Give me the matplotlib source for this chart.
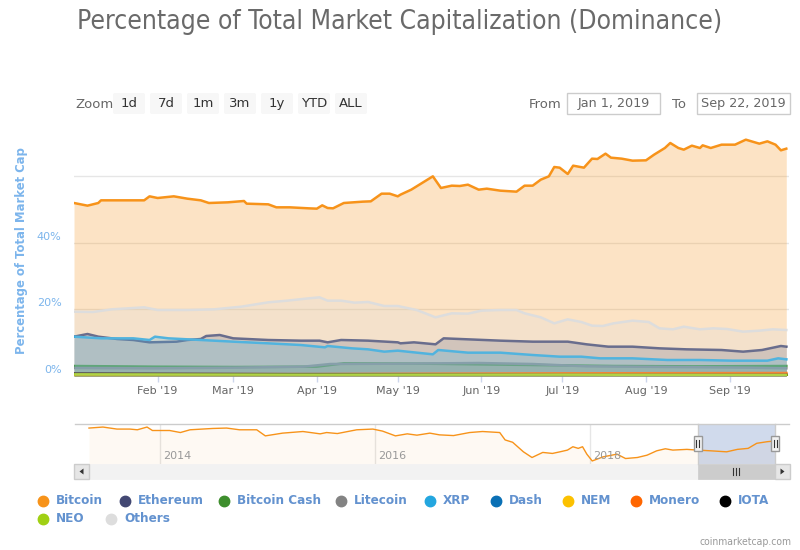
import numpy as np
import pandas as pd
import matplotlib
matplotlib.use('Agg')
import matplotlib.pyplot as plt
import matplotlib.dates as mdates
from matplotlib.patches import Rectangle, FancyBboxPatch, Polygon
from matplotlib.transforms import ScaledTranslation, blended_transform_factory
from matplotlib import font_manager

# ---------------- data ----------------
start_date = "2019-01-01"
end_date = "2019-09-22"

btc_days = [0, 5, 9, 10, 16, 22, 26, 28, 31, 37, 42, 47, 50, 57, 63, 64, 72, 75, 80, 87, 90, 92, 94, 96,
            100, 107, 110, 114, 117, 120, 121, 125, 130, 133, 136, 140, 143, 146, 150, 153, 158, 164, 167,
            170, 173, 176, 178, 180, 183, 185, 189, 192, 194, 197, 199, 203, 207, 212, 215, 219, 221, 224,
            226, 229, 232, 233, 236, 240, 245, 249, 254, 257, 260, 262, 264]
btc_vals = [51.9, 51.1, 51.9, 52.7, 52.7, 52.7, 52.7, 53.9, 53.4, 53.9, 53.2, 52.7, 51.9, 52.1, 52.5, 51.7,
            51.5, 50.6, 50.6, 50.3, 50.2, 51.2, 50.4, 50.3, 51.9, 52.3, 52.4, 54.7, 54.7, 53.9, 54.4, 55.9,
            58.4, 59.9, 56.4, 57.1, 57.0, 57.4, 55.9, 56.2, 55.6, 55.3, 57.1, 57.1, 58.9, 59.9, 62.7, 62.5,
            60.6, 63.1, 62.5, 65.2, 65.1, 66.7, 65.5, 65.2, 64.6, 64.7, 66.4, 68.4, 69.9, 68.4, 67.9, 69.1,
            68.4, 69.2, 68.4, 69.4, 69.4, 70.9, 69.7, 70.4, 69.4, 67.7, 68.2]

eth_days = [0, 5, 9, 16, 22, 28, 38, 42, 47, 49, 54, 59, 72, 84, 91, 94, 99, 109, 120, 121, 126, 134, 137,
            146, 158, 170, 183, 190, 198, 207, 217, 227, 240, 248, 255, 262, 264]
eth_vals = [11.8, 12.6, 11.8, 11.1, 10.8, 10.1, 10.3, 10.8, 11.1, 12.0, 12.3, 11.3, 10.8, 10.6, 10.6, 10.1,
            10.8, 10.6, 10.1, 9.8, 10.1, 9.5, 11.3, 11.0, 10.6, 10.3, 10.3, 9.5, 8.8, 8.8, 8.3, 8.0, 7.8,
            7.3, 7.8, 9.0, 8.8]

bch_days = [0, 30, 60, 90, 100, 130, 160, 180, 200, 230, 264]
bch_vals = [3.0, 2.8, 2.7, 2.8, 3.8, 3.7, 3.4, 3.2, 3.0, 2.9, 3.0]

ltc_days = [0, 30, 60, 85, 95, 120, 150, 170, 190, 220, 250, 264]
ltc_vals = [2.4, 2.3, 2.5, 2.8, 3.6, 3.7, 3.9, 3.6, 2.9, 2.7, 2.5, 2.3]

xrp_days = [0, 10, 22, 28, 30, 35, 47, 59, 72, 84, 93, 94, 103, 109, 115, 120, 133, 135, 146, 158, 170,
            180, 188, 195, 207, 220, 232, 244, 257, 261, 264]
xrp_vals = [11.8, 11.3, 11.3, 10.8, 11.8, 11.3, 10.8, 10.3, 9.8, 9.3, 8.6, 9.0, 8.3, 8.0, 7.3, 7.6, 6.5,
            7.8, 7.0, 7.0, 6.3, 5.8, 5.8, 5.3, 5.3, 4.8, 4.8, 4.6, 4.6, 5.3, 5.0]

small_days = [0, 90, 180, 264]
dash_vals = [0.6, 0.6, 0.5, 0.4]
nem_vals = [0.3, 0.3, 0.2, 0.2]
xmr_vals = [0.6, 0.6, 0.8, 0.9]
iota_vals = [0.7, 0.5, 0.3, 0.3]
neo_vals = [0.5, 0.4, 0.4, 0.3]

oth_days = [0, 7, 14, 26, 31, 42, 52, 62, 72, 79, 87, 91, 94, 99, 104, 109, 115, 120, 127, 134, 140, 146,
            151, 158, 164, 167, 173, 178, 183, 188, 192, 196, 200, 207, 213, 217, 222, 226, 232, 237, 242,
            248, 254, 259, 264]
oth_vals = [19.3, 19.2, 20.0, 20.6, 19.8, 19.8, 20.0, 20.8, 22.1, 22.6, 23.3, 23.6, 22.6, 22.6, 22.0, 22.2,
            21.0, 21.0, 19.8, 17.6, 18.8, 18.7, 19.6, 19.8, 19.8, 18.8, 17.6, 15.8, 17.0, 16.2, 15.1, 15.0,
            15.8, 16.6, 16.2, 14.3, 14.0, 14.8, 14.0, 14.3, 14.1, 13.3, 13.6, 14.0, 13.8]

series_names = ["Bitcoin", "Ethereum", "Bitcoin Cash", "Litecoin", "XRP", "Dash", "NEM", "Monero",
                "IOTA", "NEO", "Others"]
series_colors = ["#f7931a", "#434873", "#3e8e2d", "#838383", "#23a6df", "#0a70b5", "#fcc100", "#ff6600",
                 "#000000", "#a0d014", "#dddddd"]
series_days = [btc_days, eth_days, bch_days, ltc_days, xrp_days, small_days, small_days, small_days,
               small_days, small_days, oth_days]
series_vals = [btc_vals, eth_vals, bch_vals, ltc_vals, xrp_vals, dash_vals, nem_vals, xmr_vals,
               iota_vals, neo_vals, oth_vals]

# navigator: full-history Bitcoin dominance (fractional year, %)
nav_years = [2013.34, 2013.47, 2013.60, 2013.72, 2013.79, 2013.88, 2013.93, 2013.97, 2014.09, 2014.19,
             2014.28, 2014.49, 2014.62, 2014.74, 2014.90, 2014.98, 2015.14, 2015.33, 2015.49, 2015.55,
             2015.65, 2015.83, 2015.98, 2016.07, 2016.19, 2016.30, 2016.39, 2016.51, 2016.60, 2016.73,
             2016.88, 2017.00, 2017.16, 2017.21, 2017.28, 2017.38, 2017.46, 2017.56, 2017.65, 2017.72,
             2017.79, 2017.84, 2017.89, 2017.93, 2017.97, 2018.02, 2018.12, 2018.25, 2018.33, 2018.44,
             2018.53, 2018.62, 2018.70, 2018.77, 2018.90, 2019.00, 2019.12, 2019.27, 2019.37, 2019.47,
             2019.55, 2019.65, 2019.72]
nav_vals = [95.4, 97.4, 93.4, 93.4, 92.0, 97.4, 90.6, 90.6, 90.6, 86.6, 92.0, 94.6, 95.4, 92.0, 92.0, 80.0,
            85.4, 88.6, 84.0, 86.6, 84.6, 92.0, 93.4, 89.4, 80.0, 84.0, 81.4, 85.4, 82.0, 80.6, 86.6, 88.6,
            86.6, 72.0, 67.4, 48.6, 37.4, 47.4, 45.4, 48.6, 52.0, 58.6, 55.4, 58.6, 44.0, 30.6, 38.6, 44.0,
            35.4, 37.4, 42.0, 50.6, 54.6, 52.0, 53.4, 52.0, 50.6, 48.6, 53.4, 55.4, 65.4, 68.6, 70.0]
nav_label_years = [2014, 2016, 2018]

y_ticks = [0, 20, 40, 60]
y_tick_labels = ["0%", "20%", "40%", ""]
zoom_buttons = ["1d", "7d", "1m", "3m", "1y", "YTD", "ALL"]

# ---------------- fonts ----------------
avail = {f.name for f in font_manager.fontManager.ttflist}
if "Liberation Sans Narrow" in avail:
    NARROW = dict(family="Liberation Sans Narrow")
else:
    NARROW = dict(family="DejaVu Sans", stretch="condensed")
plt.rcParams["font.family"] = ["DejaVu Sans"]

W, H = 800, 550
fig = plt.figure(figsize=(8, 5.5), dpi=100)
fig.patch.set_facecolor("white")


def px_axes(x0, y0, x1, y1):
    return fig.add_axes([x0 / W, 1 - y1 / H, (x1 - x0) / W, (y1 - y0) / H])


# overlay for UI elements (pixel coordinates, y down)
ov = fig.add_axes([0, 0, 1, 1])
ov.set_xlim(0, W)
ov.set_ylim(H, 0)
ov.axis("off")

# title
ov.text(400, 22, "Percentage of Total Market Capitalization (Dominance)", ha="center", va="center",
        fontsize=19, color="#6a6a6a", **NARROW)

# zoom buttons
ov.text(75, 104, "Zoom", ha="left", va="center", fontsize=9.5, color="#666666")
for i, b in enumerate(zoom_buttons):
    x0 = 113 + i * 37
    ov.add_patch(FancyBboxPatch((x0, 93), 32, 21, boxstyle="round,pad=0,rounding_size=2",
                                fc="#f7f7f7", ec="none"))
    ov.text(x0 + 16, 103.5, b, ha="center", va="center", fontsize=9.5, color="#333333")

# from / to inputs
ov.text(529, 104, "From", ha="left", va="center", fontsize=9.5, color="#666666")
ov.add_patch(Rectangle((567, 93), 93, 21, fc="white", ec="#cccccc", lw=1))
ov.text(613.5, 103.5, "Jan 1, 2019", ha="center", va="center", fontsize=9.2, color="#666666")
ov.text(672, 104, "To", ha="left", va="center", fontsize=9.5, color="#666666")
ov.add_patch(Rectangle((697, 93), 93, 21, fc="white", ec="#cccccc", lw=1))
ov.text(743.5, 103.5, "Sep 22, 2019", ha="center", va="center", fontsize=9.2, color="#666666")

# y axis title
ov.text(22, 251, "Percentage of Total Market Cap", rotation=90, ha="center", va="center",
        fontsize=8.4, fontweight="bold", color="#7cb5ec")

# ---------------- main chart ----------------
t0 = pd.Timestamp(start_date)
t1 = pd.Timestamp(end_date)
ax = px_axes(74, 130, 789, 376)
ax.set_facecolor("none")
for i, (nm, col, d, v) in enumerate(zip(series_names, series_colors, series_days, series_vals)):
    dates = t0 + pd.to_timedelta(d, unit="D")
    ax.fill_between(dates, 0, v, color=col, alpha=0.25, lw=0, zorder=2 + i * 0.1)
    ax.plot(dates, v, color=col, lw=1.8, zorder=2.05 + i * 0.1, solid_joinstyle="round")

ax.set_xlim(t0, t1 + pd.Timedelta(days=1))
ax.set_ylim(0, 73.8)
ax.xaxis.set_major_locator(mdates.MonthLocator(bymonth=range(2, 13)))
ax.xaxis.set_major_formatter(mdates.DateFormatter("%b '%y"))
ax.set_yticks(y_ticks)
ax.set_yticklabels(y_tick_labels)
ax.grid(axis="y", color="#e6e6e6", lw=1, zorder=0)
ax.set_axisbelow(True)
for s in ax.spines.values():
    s.set_visible(False)
ax.tick_params(axis="x", length=4, width=1, color="#ccd6eb", labelcolor="#666666", labelsize=8, pad=3)
ax.tick_params(axis="y", length=0, labelcolor="#7cb5ec", labelsize=8, pad=9)
for lab in ax.get_yticklabels():
    lab.set_transform(lab.get_transform() + ScaledTranslation(0, 7 / 100, fig.dpi_scale_trans))

# ---------------- navigator ----------------
nav = px_axes(75, 424, 789, 464)
nav.set_facecolor("none")
nav.fill_between(nav_years, 0, nav_vals, color="#f7931a", alpha=0.05, lw=0)
nav.plot(nav_years, nav_vals, color="#f7931a", lw=1)
nav.set_xlim(2013.21, 2019.85)
nav.set_ylim(24.6, 103.4)
nav.set_xticks(nav_label_years)
nav.set_yticks([])
nav.grid(axis="x", color="#e6e6e6", lw=1)
nav.set_axisbelow(True)
nav.tick_params(axis="x", length=0, labelbottom=False)
for s in nav.spines.values():
    s.set_visible(False)
btr = blended_transform_factory(nav.transData, nav.transAxes)
for yr in nav_label_years:
    nav.text(yr, 0.2, str(yr), transform=btr + ScaledTranslation(3 / 100, 0, fig.dpi_scale_trans),
             ha="left", va="center", fontsize=8, color="#999999")
sel0 = 2019.0
sel1 = 2019 + (t1 - t0).days / 365.0
nav.axvspan(sel0, sel1, color="#6685c2", alpha=0.3, lw=0)

# top overlay for outline, handles, scrollbar
top = fig.add_axes([0, 0, 1, 1])
top.set_xlim(0, W)
top.set_ylim(H, 0)
top.axis("off")
fig.canvas.draw()
inv = top.transData.inverted()
px0 = inv.transform(nav.transData.transform((sel0, 50)))[0]
px1 = inv.transform(nav.transData.transform((sel1, 50)))[0]

top.plot([75, 789], [424, 424], color="#cccccc", lw=1)
top.plot([px0, px0], [424, 464], color="#cccccc", lw=1)
top.plot([px1, px1], [424, 464], color="#cccccc", lw=1)
for hx in (px0, px1):
    top.add_patch(Rectangle((hx - 4, 436), 8, 15, fc="#f2f2f2", ec="#999999", lw=1, zorder=5))
    top.plot([hx - 1.5, hx - 1.5], [440, 447], color="#333333", lw=0.8, zorder=6)
    top.plot([hx + 1.5, hx + 1.5], [440, 447], color="#333333", lw=0.8, zorder=6)

# scrollbar
top.add_patch(Rectangle((74, 464), 716, 15, fc="#f2f2f2", ec="#f2f2f2", lw=0.5))
top.add_patch(Rectangle((px0, 464), px1 - px0, 15, fc="#cccccc", ec="#cccccc", lw=0.5))
cx = (px0 + px1) / 2
for dx in (-3, 0, 3):
    top.plot([cx + dx, cx + dx], [468, 475], color="#333333", lw=0.8)
top.add_patch(Rectangle((74, 464), 15, 15, fc="#e6e6e6", ec="#cccccc", lw=1))
top.add_patch(Rectangle((775, 464), 15, 15, fc="#e6e6e6", ec="#cccccc", lw=1))
top.add_patch(Polygon([[79.5, 471.5], [83.5, 468.5], [83.5, 474.5]], closed=True, fc="#333333", ec="none"))
top.add_patch(Polygon([[784.5, 471.5], [780.5, 468.5], [780.5, 474.5]], closed=True, fc="#333333", ec="none"))

# legend
leg_pos = [(43, 501), (125, 501), (224, 501), (341, 501), (430, 501), (496, 501), (568, 501), (636, 501),
           (725, 501), (43, 519), (111, 519)]
for (lx, ly), nm, col in zip(leg_pos, series_names, series_colors):
    top.plot([lx], [ly], marker="o", ms=7.5, color=col, mec=col)
    top.text(lx + 13, ly, nm, ha="left", va="center", fontsize=9.6, fontweight="bold",
             color="#6392cf", **NARROW)

top.text(792, 542, "coinmarketcap.com", ha="right", va="center", fontsize=7.5, color="#999999", **NARROW)

fig.savefig("out.png", dpi=100, facecolor="white")
